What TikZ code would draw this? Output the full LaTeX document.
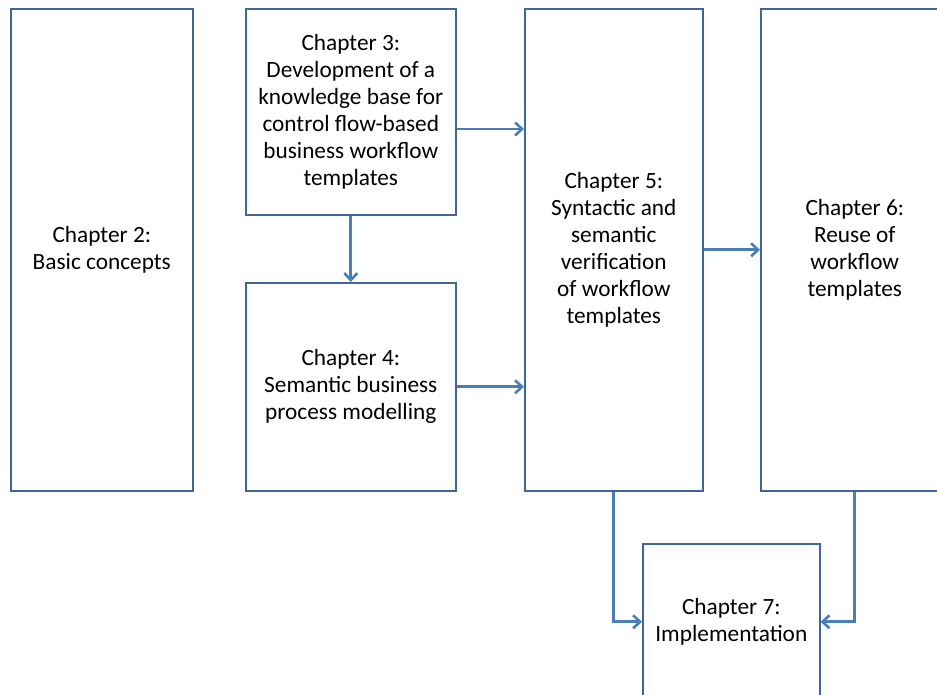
\documentclass[tikz,border=0pt]{standalone}
\usepackage{fontspec}
\setmainfont{Carlito}
\usetikzlibrary{arrows.meta}
\definecolor{boxline}{HTML}{3F6696}
\definecolor{arrowblue}{HTML}{4A7EBB}
\begin{document}
\begin{tikzpicture}[x=1pt,y=-1pt,
  chap/.style={draw=boxline, line width=1.6pt, fill=white, anchor=north west,
    align=center, inner sep=0pt, font=\fontsize{23.3}{27}\selectfont, text=black},
  arr/.style={draw=arrowblue, line width=2.8pt,
    -{Straight Barb[length=7pt,width=13pt,line width=2.6pt]}}]
\useasboundingbox (0,0) rectangle (937,695);
\clip (0,0) rectangle (937,695);
\node[chap, minimum width=182pt, minimum height=482pt] (c2) at (10,8) {Chapter 2:\\Basic concepts};
\node[chap, minimum width=210pt, minimum height=206pt] (c3) at (245,8) {Chapter 3:\\Development of a\\knowledge base for\\control flow-based\\business workflow\\templates};
\node[chap, minimum width=210pt, minimum height=208pt] (c4) at (245,282) {Chapter 4:\\Semantic business\\process modelling};
\node[chap, minimum width=178pt, minimum height=482pt] (c5) at (524,8) {Chapter 5:\\Syntactic and\\semantic\\verification\\of workflow\\templates};
\node[chap, minimum width=188pt, minimum height=482pt] (c6) at (760,8) {Chapter 6:\\Reuse of\\workflow\\templates};
\node[chap, minimum width=177pt, minimum height=156pt] (c7) at (642,543) {Chapter 7:\\Implementation};
\draw[arr] (c3.east |- 0,129) -- (c5.west |- 0,129);
\draw[arr] (c3.south) -- (c4.north);
\draw[arr] (c4.east) -- (c5.west |- c4.east);
\draw[arr] (c5.east) -- (c6.west |- c5.east);
\draw[arr] (c5.south) |- (c7.west);
\draw[arr] (c6.south) |- (c7.east);
\end{tikzpicture}
\end{document}
